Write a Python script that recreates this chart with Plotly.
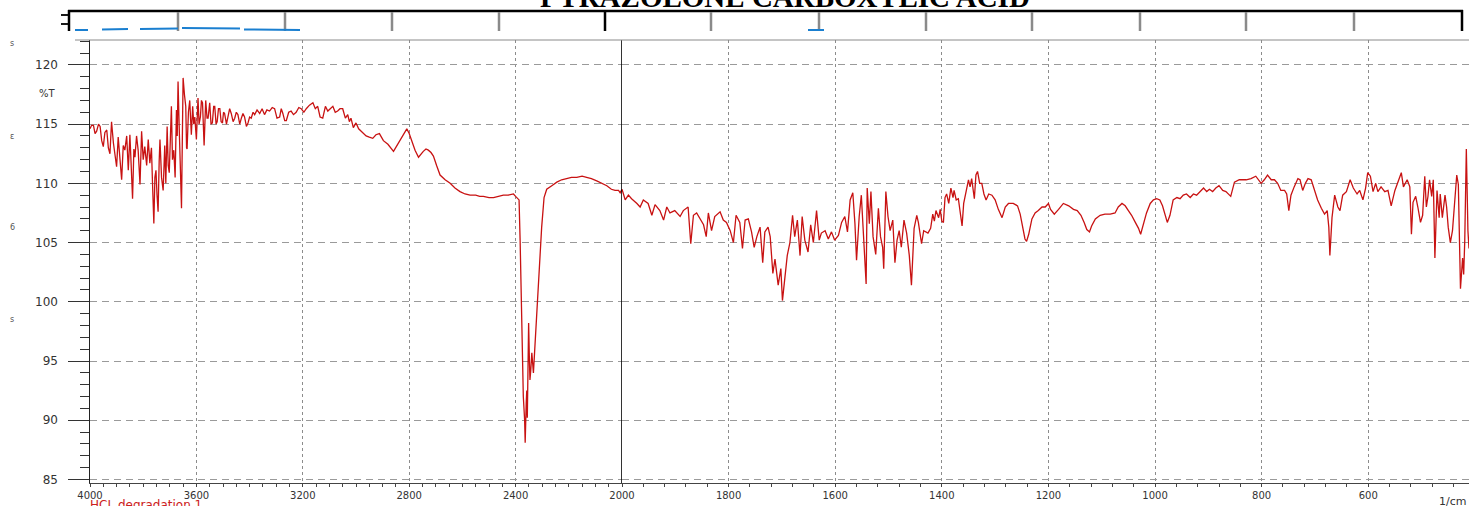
import plotly.graph_objects as go

# ---------------- data ----------------
# 4000 -> 2000 1/cm (compressed scale, left panel)
wn_high = [4000, 3994, 3987, 3981, 3975, 3968, 3962, 3956, 3950, 3944, 3937, 3931, 3925, 3919,
           3912, 3906, 3900, 3894, 3887, 3881, 3875, 3869, 3862, 3856, 3850, 3845, 3840, 3835,
           3831, 3825, 3819, 3812, 3806, 3800, 3794, 3787, 3781, 3775, 3769, 3765, 3760, 3756,
           3752, 3748, 3744, 3740, 3737, 3731, 3725, 3719, 3715, 3710, 3706, 3702, 3698, 3694,
           3690, 3685, 3680, 3675, 3672, 3669, 3665, 3662, 3658, 3656, 3653, 3650, 3645, 3640,
           3637, 3635, 3630, 3625, 3622, 3619, 3614, 3610, 3606, 3600, 3594, 3590, 3585, 3581,
           3577, 3574, 3571, 3565, 3560, 3556, 3550, 3545, 3540, 3535, 3531, 3526, 3522, 3517,
           3512, 3507, 3502, 3498, 3494, 3487, 3481, 3475, 3469, 3462, 3456, 3450, 3444, 3437,
           3431, 3425, 3419, 3412, 3406, 3400, 3394, 3387, 3381, 3372, 3362, 3353, 3344, 3335,
           3325, 3315, 3306, 3297, 3287, 3281, 3275, 3268, 3262, 3253, 3244, 3235, 3225, 3215,
           3206, 3196, 3187, 3175, 3162, 3153, 3144, 3135, 3125, 3115, 3106, 3097, 3087, 3078,
           3069, 3060, 3050, 3040, 3031, 3025, 3019, 3010, 3000, 2990, 2981, 2970, 2962, 2950,
           2937, 2925, 2912, 2897, 2880, 2859, 2845, 2834, 2820, 2809, 2800, 2790, 2778, 2765,
           2755, 2747, 2737, 2728, 2718, 2709, 2697, 2684, 2665, 2646, 2628, 2609, 2590, 2571,
           2550, 2535, 2521, 2500, 2483, 2465, 2446, 2428, 2408, 2400, 2396, 2387, 2383, 2377,
           2371, 2366, 2364, 2360, 2358, 2356, 2353, 2351, 2348, 2346, 2343, 2339, 2333, 2327,
           2320, 2312, 2302, 2293, 2283, 2264, 2245, 2227, 2208, 2190, 2170, 2150, 2133, 2115,
           2095, 2075, 2057, 2040, 2026, 2013, 2007, 2000]
t_high = [114.6, 114.9, 114.9, 114.2, 114.4, 115.0, 114.8, 113.6, 113.1, 114.3, 114.5, 113.0, 112.5, 115.2,
          113.4, 112.4, 111.4, 113.9, 112.0, 110.3, 113.2, 112.8, 114.0, 111.1, 114.1, 111.5, 108.7, 112.9,
          112.2, 114.0, 112.8, 109.9, 114.4, 112.0, 113.1, 111.5, 113.7, 111.7, 113.0, 110.0, 106.6, 110.5,
          111.1, 109.0, 107.6, 111.8, 113.7, 110.5, 109.4, 113.2, 110.0, 114.8, 111.5, 110.9, 114.5, 116.5,
          112.0, 112.8, 110.5, 116.2, 114.0, 118.6, 115.0, 113.1, 110.0, 107.9, 113.5, 118.9, 117.5, 116.5,
          113.0, 112.9, 116.0, 117.0, 115.5, 114.1, 116.5, 115.0, 115.6, 113.7, 117.2, 115.0, 115.6, 117.0,
          116.8, 114.5, 113.2, 117.0, 115.5, 115.5, 116.8, 115.0, 115.1, 116.5, 116.5, 115.0, 115.2, 116.3,
          116.3, 115.2, 115.1, 116.0, 115.9, 115.0, 115.6, 116.3, 115.9, 115.2, 115.5, 116.0, 115.8, 115.0,
          115.5, 115.9, 115.6, 114.8, 115.1, 115.6, 115.5, 116.0, 115.8, 116.2, 115.9, 116.3, 115.8, 116.2,
          116.1, 116.4, 116.3, 115.5, 115.6, 116.3, 115.9, 115.3, 115.3, 116.0, 116.1, 115.8, 116.0, 116.4,
          116.3, 116.0, 116.3, 116.6, 116.8, 116.3, 116.5, 115.6, 115.5, 116.5, 116.1, 116.3, 116.5, 116.0,
          116.1, 116.3, 116.3, 115.5, 115.8, 115.2, 115.5, 114.7, 115.1, 114.6, 114.4, 114.2, 114.0, 113.9,
          113.8, 114.1, 114.2, 113.6, 113.3, 112.7, 113.2, 113.6, 114.2, 114.6, 114.2, 113.6, 112.8, 112.2,
          112.5, 112.7, 112.9, 112.8, 112.6, 112.3, 111.5, 110.7, 110.3, 110.0, 109.6, 109.3, 109.1, 109.0,
          109.0, 108.9, 108.9, 108.8, 108.8, 108.9, 109.0, 109.0, 109.1, 108.9, 108.8, 108.6, 105.2, 99.3,
          92.0, 90.0, 88.1, 91.5, 92.5, 90.2, 94.5, 98.2, 95.0, 93.4, 94.2, 95.7, 94.0, 96.5,
          99.6, 102.1, 106.3, 108.8, 109.5, 109.8, 110.1, 110.3, 110.4, 110.5, 110.5, 110.6, 110.5, 110.4,
          110.2, 110.0, 109.8, 109.5, 109.4, 109.4, 109.2, 109.5]

# 2000 -> 411 1/cm (expanded scale, right panel)
wn_low = [2000, 1994, 1988, 1982, 1972, 1966, 1960, 1951, 1944, 1938, 1929, 1922, 1916, 1910,
          1901, 1891, 1885, 1876, 1871, 1866, 1860, 1854, 1847, 1842, 1838, 1832, 1826, 1816,
          1810, 1804, 1797, 1791, 1786, 1779, 1774, 1769, 1763, 1757, 1752, 1747, 1741, 1736,
          1732, 1726, 1722, 1717, 1713, 1707, 1702, 1699, 1694, 1690, 1685, 1680, 1676, 1671,
          1666, 1662, 1657, 1651, 1646, 1641, 1635, 1630, 1626, 1619, 1613, 1607, 1601, 1594,
          1588, 1582, 1577, 1572, 1567, 1563, 1560, 1555, 1551, 1546, 1542, 1540, 1536, 1533,
          1529, 1524, 1519, 1515, 1511, 1509, 1505, 1501, 1497, 1492, 1488, 1484, 1480, 1476,
          1471, 1466, 1461, 1457, 1452, 1447, 1444, 1438, 1434, 1426, 1421, 1417, 1414, 1411,
          1406, 1403, 1400, 1397, 1394, 1391, 1387, 1383, 1379, 1377, 1373, 1369, 1366, 1362,
          1359, 1354, 1350, 1347, 1344, 1339, 1336, 1333, 1329, 1325, 1321, 1317, 1312, 1306,
          1300, 1294, 1287, 1281, 1275, 1266, 1258, 1253, 1248, 1244, 1241, 1237, 1231, 1225,
          1219, 1212, 1206, 1200, 1196, 1189, 1181, 1172, 1162, 1153, 1146, 1139, 1133, 1128,
          1123, 1119, 1112, 1103, 1094, 1084, 1075, 1069, 1062, 1056, 1050, 1044, 1037, 1031,
          1027, 1022, 1016, 1009, 1003, 997, 991, 986, 981, 977, 972, 966, 959, 953,
          947, 941, 934, 928, 922, 916, 909, 903, 898, 892, 886, 880, 873, 867,
          861, 858, 851, 842, 829, 820, 811, 801, 795, 789, 782, 776, 770, 764,
          757, 753, 749, 745, 739, 732, 728, 723, 718, 713, 707, 701, 695, 688,
          682, 677, 674, 672, 668, 663, 657, 653, 648, 641, 634, 628, 621, 616,
          610, 605, 601, 596, 591, 586, 582, 576, 569, 563, 557, 550, 544, 538,
          534, 527, 522, 519, 516, 511, 507, 502, 498, 494, 491, 488, 485, 481,
          478, 475, 471, 467, 465, 461, 456, 453, 450, 446, 442, 438, 434, 431,
          429, 427, 423, 421, 419, 416, 413, 411]
t_low = [109.5, 108.6, 109.0, 108.7, 108.3, 108.0, 108.6, 108.3, 107.3, 108.2, 107.7, 106.9, 108.0, 107.5,
         107.7, 107.2, 107.7, 108.0, 104.9, 107.3, 107.5, 107.0, 106.5, 105.5, 107.5, 106.0, 107.2, 107.6,
         106.9, 106.7, 106.0, 105.0, 107.3, 106.7, 104.5, 106.9, 107.0, 105.9, 104.6, 105.5, 106.3, 103.3,
         105.9, 106.3, 105.5, 102.4, 103.6, 101.4, 102.8, 100.1, 102.5, 103.9, 105.0, 107.3, 105.5, 106.9,
         103.9, 107.2, 105.2, 104.2, 106.5, 105.0, 107.7, 105.2, 105.8, 106.0, 105.3, 105.9, 105.2, 105.6,
         106.7, 107.2, 105.9, 108.6, 109.2, 106.6, 103.5, 107.2, 109.0, 105.2, 101.5, 109.6, 106.6, 109.3,
         105.5, 104.0, 107.9, 105.5, 104.6, 102.8, 109.3, 107.2, 106.0, 106.9, 103.3, 105.2, 106.0, 104.6,
         106.9, 105.8, 103.9, 101.4, 106.2, 107.3, 106.7, 104.9, 106.0, 105.8, 106.2, 107.4, 106.8, 107.7,
         107.1, 107.8, 106.8, 106.7, 108.8, 109.1, 108.3, 109.6, 108.8, 109.4, 108.6, 108.7, 107.8, 106.4,
         108.3, 109.6, 110.3, 109.7, 110.4, 108.7, 110.7, 111.0, 110.0, 110.0, 109.1, 108.6, 109.1, 109.0,
         108.6, 107.8, 107.1, 108.0, 108.3, 108.3, 108.1, 107.4, 106.1, 105.3, 105.1, 105.7, 107.0, 107.5,
         107.7, 108.0, 108.0, 108.3, 107.8, 107.4, 107.8, 108.3, 108.1, 107.8, 107.7, 107.3, 106.7, 106.1,
         105.9, 106.4, 107.0, 107.3, 107.4, 107.4, 107.5, 108.0, 108.3, 108.1, 107.7, 107.3, 106.7, 106.2,
         105.7, 106.5, 107.5, 108.3, 108.6, 108.7, 108.6, 108.1, 107.4, 106.7, 107.3, 108.6, 108.8, 108.7,
         109.0, 109.1, 108.8, 109.1, 109.0, 109.3, 109.6, 109.3, 109.5, 109.3, 109.6, 109.8, 109.4, 109.3,
         109.0, 108.9, 110.1, 110.3, 110.3, 110.4, 110.6, 110.0, 110.3, 110.7, 110.3, 110.3, 110.0, 109.4,
         109.4, 109.1, 107.7, 109.0, 109.7, 110.4, 110.3, 109.4, 110.0, 110.4, 110.3, 109.4, 108.6, 107.9,
         107.4, 107.7, 106.3, 103.9, 107.1, 109.0, 108.0, 107.7, 109.0, 109.3, 110.3, 109.6, 109.1, 109.4,
         108.6, 109.6, 110.9, 110.6, 109.3, 110.0, 109.3, 109.7, 109.3, 109.4, 108.1, 109.4, 110.1, 110.9,
         109.7, 110.3, 109.7, 105.7, 108.4, 108.9, 108.0, 106.7, 107.3, 110.6, 108.0, 108.9, 110.3, 108.9,
         110.3, 103.7, 109.4, 107.1, 109.1, 107.1, 109.0, 108.0, 106.3, 105.0, 106.0, 108.0, 110.7, 109.9,
         105.1, 101.1, 103.7, 102.3, 105.1, 112.9, 106.0, 104.5]

y_ticks = [85, 90, 95, 100, 105, 110, 115, 120]
x_ticks_high = [4000, 3600, 3200, 2800, 2400, 2000]
x_ticks_low = [1800, 1600, 1400, 1200, 1000, 800, 600]
title_text = "PYRAZOLONE CARBOXYLIC ACID"
sample_label = "HCL degradation 1"

# ---------------- geometry helpers (pixel layout) ----------------
W, H = 1469, 506
ML, MR, MT, MB = 90, 0, 40, 23
PW, PH = W - ML - MR, H - MT - MB
split = (622 - ML) / PW


def px(xp):
    return (xp - ML) / PW


def py(yp):
    return (H - MB - yp) / PH


line_col = "#c81212"
tick_font = dict(family="DejaVu Sans, Arial", size=12, color="#333333")
xtick_font = dict(family="DejaVu Sans, Arial", size=10, color="#333333")

fig = go.Figure()
fig.add_trace(go.Scatter(x=wn_high, y=t_high, xaxis="x", yaxis="y", mode="lines",
                         line=dict(color=line_col, width=1.3), showlegend=False))
fig.add_trace(go.Scatter(x=wn_low, y=t_low, xaxis="x2", yaxis="y", mode="lines",
                         line=dict(color=line_col, width=1.3), showlegend=False))

xcommon = dict(showline=True, linecolor="#444444", linewidth=1, ticks="outside", ticklen=3,
               tickcolor="#444444", showgrid=True, gridcolor="#8c8c8c", griddash="dot",
               gridwidth=1, zeroline=False, tickfont=xtick_font, automargin=False, anchor="y")

fig.update_layout(
    width=W, height=H,
    margin=dict(l=ML, r=MR, t=MT, b=MB),
    paper_bgcolor="white", plot_bgcolor="white",
    showlegend=False,
    xaxis=dict(domain=[0, split], range=[4000, 2000], tickmode="array", tickvals=x_ticks_high,
               minor=dict(dtick=50, ticks="outside", ticklen=3, tickcolor="#444444", showgrid=False),
               **xcommon),
    xaxis2=dict(domain=[split, 1], range=[2000, 411], tickmode="array", tickvals=x_ticks_low,
                minor=dict(dtick=40, ticks="outside", ticklen=3, tickcolor="#444444", showgrid=False),
                **xcommon),
    yaxis=dict(range=[84.7, 122.1], tickmode="array", tickvals=y_ticks,
               ticktext=[str(v) + "\u2007" for v in y_ticks], ticks="outside", ticklen=21,
               tickcolor="#333333", showline=True, linecolor="#222222", linewidth=1,
               showgrid=True, gridcolor="#9a9a9a", griddash="7px,5px", gridwidth=1,
               zeroline=False, tickfont=tick_font, automargin=False,
               minor=dict(dtick=1, ticks="outside", ticklen=9, tickcolor="#333333", showgrid=False)),
)

shapes = []
# solid separator at 2000 1/cm
shapes.append(dict(type="line", xref="x", yref="paper", x0=2000, x1=2000, y0=0, y1=1,
                   line=dict(color="black", width=1.6)))
# top border of plot
shapes.append(dict(type="line", xref="paper", yref="paper", x0=px(75), x1=1, y0=1, y1=1,
                   line=dict(color="#8a8a8a", width=1)))
# top strip (bottom of previous panel)
shapes.append(dict(type="line", xref="paper", yref="paper", x0=px(68), x1=px(1463), y0=py(11), y1=py(11),
                   line=dict(color="black", width=2.5)))
shapes.append(dict(type="line", xref="paper", yref="paper", x0=px(69), x1=px(69), y0=py(10), y1=py(31),
                   line=dict(color="black", width=2.5)))
for yy in (15, 24):
    shapes.append(dict(type="line", xref="paper", yref="paper", x0=px(61), x1=px(69), y0=py(yy), y1=py(yy),
                       line=dict(color="black", width=1.8)))
shapes.append(dict(type="line", xref="paper", yref="paper", x0=px(1462), x1=px(1462), y0=py(10), y1=py(31),
                   line=dict(color="black", width=2.5)))
for xx in (178, 285, 392, 499, 711, 819, 926, 1032, 1140, 1246, 1354):
    shapes.append(dict(type="line", xref="paper", yref="paper", x0=px(xx), x1=px(xx), y0=py(12), y1=py(31),
                       line=dict(color="#8a8a8a", width=2.5)))
shapes.append(dict(type="line", xref="paper", yref="paper", x0=px(605), x1=px(605), y0=py(12), y1=py(31),
                   line=dict(color="black", width=2.5)))
# blue fragments of the panel above
for (x0, y0, x1, y1) in [(75, 30, 88, 30), (102, 29.5, 128, 29), (140, 29, 178, 28.5),
                         (182, 28, 240, 28.5), (244, 29.5, 300, 30), (808, 30, 824, 30)]:
    shapes.append(dict(type="line", xref="paper", yref="paper", x0=px(x0), x1=px(x1), y0=py(y0), y1=py(y1),
                       line=dict(color="#1a7fd0", width=2)))
fig.update_layout(shapes=shapes)

ann = []
ann.append(dict(text="<b>" + title_text + "</b>", xref="paper", yref="paper", x=px(785), y=py(15),
                xanchor="center", yanchor="bottom", showarrow=False,
                font=dict(family="Liberation Serif, Times New Roman", size=29, color="black")))
ann.append(dict(text="%T", xref="paper", yref="paper", x=px(47), y=py(94), xanchor="center",
                yanchor="middle", showarrow=False,
                font=dict(family="DejaVu Sans, Arial", size=10, color="#333333")))
ann.append(dict(text=sample_label, xref="paper", yref="paper", x=px(88), y=py(505), xanchor="left",
                yanchor="middle", showarrow=False,
                font=dict(family="DejaVu Sans, Arial", size=12, color="#cc2020")))
ann.append(dict(text="1/cm", xref="paper", yref="paper", x=px(1468), y=py(501), xanchor="right",
                yanchor="middle", showarrow=False,
                font=dict(family="DejaVu Sans, Arial", size=11, color="#333333")))
for (xx, yy, s) in [(12, 44, "s"), (12, 136, "ε"), (12, 227, "6"), (12, 319, "s")]:
    ann.append(dict(text=s, xref="paper", yref="paper", x=px(xx), y=py(yy), xanchor="center",
                    yanchor="middle", showarrow=False,
                    font=dict(family="DejaVu Sans, Arial", size=8, color="#555555")))
fig.update_layout(annotations=ann)

fig.write_html("out.html", config={"displayModeBar": False},
               post_script="document.body.style.margin='0px';")
